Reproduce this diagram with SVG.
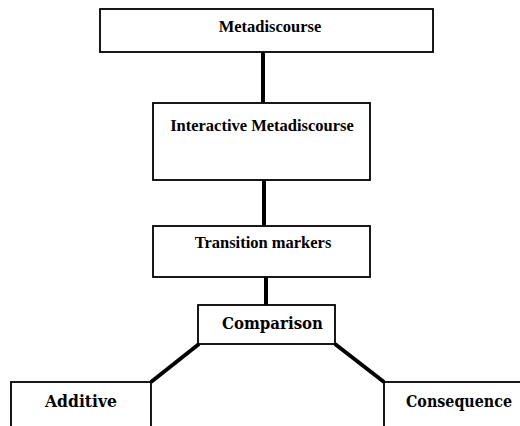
<svg xmlns="http://www.w3.org/2000/svg" width="520" height="426" viewBox="0 0 520 426">
<style>
.box{fill:#fff;stroke:#000;stroke-width:1.8}
.t1{font-family:"Liberation Serif","Times New Roman",serif;font-weight:bold;font-size:16.5px;fill:#000;text-anchor:middle}
.t2{font-family:"DejaVu Serif",serif;font-weight:bold;font-size:16.5px;fill:#000}
.con{stroke:#000;stroke-width:4;fill:none}
</style>
<rect width="520" height="426" fill="#fff"/>
<g id="connectors">
<line class="con" x1="263" y1="52" x2="263" y2="103"/>
<line class="con" x1="264" y1="180" x2="264" y2="226"/>
<line class="con" x1="266" y1="277" x2="266" y2="305"/>
<line class="con" x1="199" y1="344" x2="151" y2="382"/>
<line class="con" x1="335" y1="344" x2="384" y2="382"/>
</g>
<g id="metadiscourse">
<rect class="box" x="100" y="9" width="333" height="43"/>
<text class="t1" x="270" y="32">Metadiscourse</text>
</g>
<g id="interactive">
<rect class="box" x="153" y="103" width="217" height="77"/>
<text class="t1" x="262" y="131">Interactive Metadiscourse</text>
</g>
<g id="transition">
<rect class="box" x="153" y="226" width="217" height="51"/>
<text class="t1" x="263" y="248">Transition markers</text>
</g>
<g id="comparison">
<rect class="box" x="198" y="305" width="137" height="39"/>
<text class="t2" x="222" y="329" textLength="101" lengthAdjust="spacingAndGlyphs">Comparison</text>
</g>
<g id="additive">
<rect class="box" x="11" y="382" width="140" height="50"/>
<text class="t2" x="45" y="407" textLength="72" lengthAdjust="spacingAndGlyphs">Additive</text>
</g>
<g id="consequence">
<rect class="box" x="384" y="382" width="140" height="50"/>
<text class="t2" x="406" y="407" textLength="106" lengthAdjust="spacingAndGlyphs">Consequence</text>
</g>
</svg>
